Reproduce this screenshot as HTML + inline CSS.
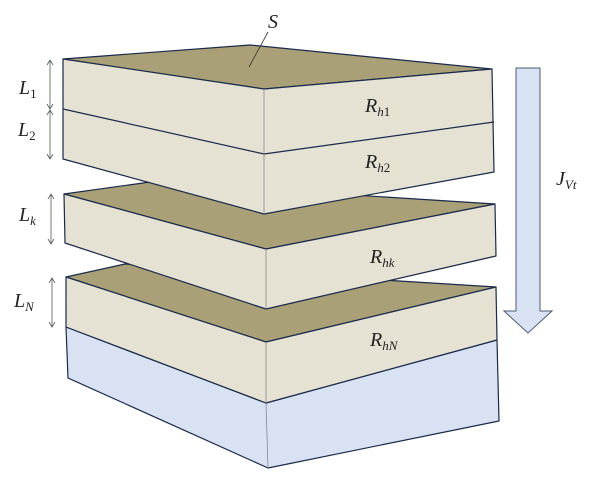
<!DOCTYPE html>
<html><head><style>body{margin:0;background:#fff}svg{display:block}text{font-family:"Liberation Serif",serif;font-style:italic;fill:#222}</style></head>
<body>
<svg width="600" height="478" viewBox="0 0 600 478">
<g stroke="#1a2a4a" stroke-width="1.2" stroke-linejoin="round">
<!-- base blue -->
<polygon points="66,327 266,403 497,340 499,421 268,468 68,378" fill="#d9e2f3"/>
<line x1="266" y1="403" x2="268" y2="468" stroke="#888" stroke-width="0.8"/>
<!-- block N -->
<polygon points="66,277 125,264 496,287 266,342" fill="#a9a077"/>
<polygon points="66,277 266,342 496,287 497,340 266,403 66,327" fill="#e5e2d4"/>
<line x1="266" y1="342" x2="266" y2="403" stroke="#888" stroke-width="0.8"/>
<!-- block k -->
<polygon points="64,194 150,182 495,204 266,249" fill="#a9a077"/>
<polygon points="64,194 266,249 495,204 496,256 266,309 65,243" fill="#e5e2d4"/>
<line x1="266" y1="249" x2="266" y2="309" stroke="#888" stroke-width="0.8"/>
<!-- top block -->
<polygon points="63,59 250,45 492,69 264,89" fill="#a9a077"/>
<polygon points="63,59 264,89 492,69 494,172 264,214 63,159" fill="#e5e2d4"/>
<polyline points="63,109 264,154 494,122" fill="none"/>
<line x1="264" y1="89" x2="264" y2="214" stroke="#888" stroke-width="0.8"/>
</g>
<line x1="249" y1="67" x2="268" y2="32" stroke="#333" stroke-width="0.8"/>
<!-- arrow -->
<polygon points="516,68 540,68 540,311 552,311 528,333 504,311 516,311" fill="#d9e2f3" stroke="#4a5a7a" stroke-width="1"/>
<!-- dimension arrows -->
<g stroke="#555" stroke-width="0.8" fill="none">
<line x1="50" y1="60" x2="50" y2="109"/><polyline points="47,65 50,60 53,65"/><polyline points="47,104 50,109 53,104"/>
<line x1="50" y1="110" x2="50" y2="159"/><polyline points="47,115 50,110 53,115"/><polyline points="47,154 50,159 53,154"/>
<line x1="51" y1="194" x2="51" y2="244"/><polyline points="48,199 51,194 54,199"/><polyline points="48,239 51,244 54,239"/>
<line x1="52" y1="278" x2="52" y2="327"/><polyline points="49,283 52,278 55,283"/><polyline points="49,322 52,327 55,322"/>
</g>
<g font-size="20">
<text x="268" y="28">S</text>
<text x="19" y="94">L<tspan font-size="13" font-style="normal" dy="4">1</tspan></text>
<text x="18" y="136">L<tspan font-size="13" font-style="normal" dy="4">2</tspan></text>
<text x="19" y="221">L<tspan font-size="13" dy="4">k</tspan></text>
<text x="14" y="307">L<tspan font-size="13" dy="4">N</tspan></text>
<text x="365" y="112">R<tspan font-size="13" dy="4">h</tspan><tspan font-size="13" font-style="normal">1</tspan></text>
<text x="365" y="168">R<tspan font-size="13" dy="4">h</tspan><tspan font-size="13" font-style="normal">2</tspan></text>
<text x="370" y="263">R<tspan font-size="13" dy="4">hk</tspan></text>
<text x="370" y="346">R<tspan font-size="13" dy="4">hN</tspan></text>
<text x="556" y="185">J<tspan font-size="13" dy="4">Vt</tspan></text>
</g>
</svg>
</body></html>
